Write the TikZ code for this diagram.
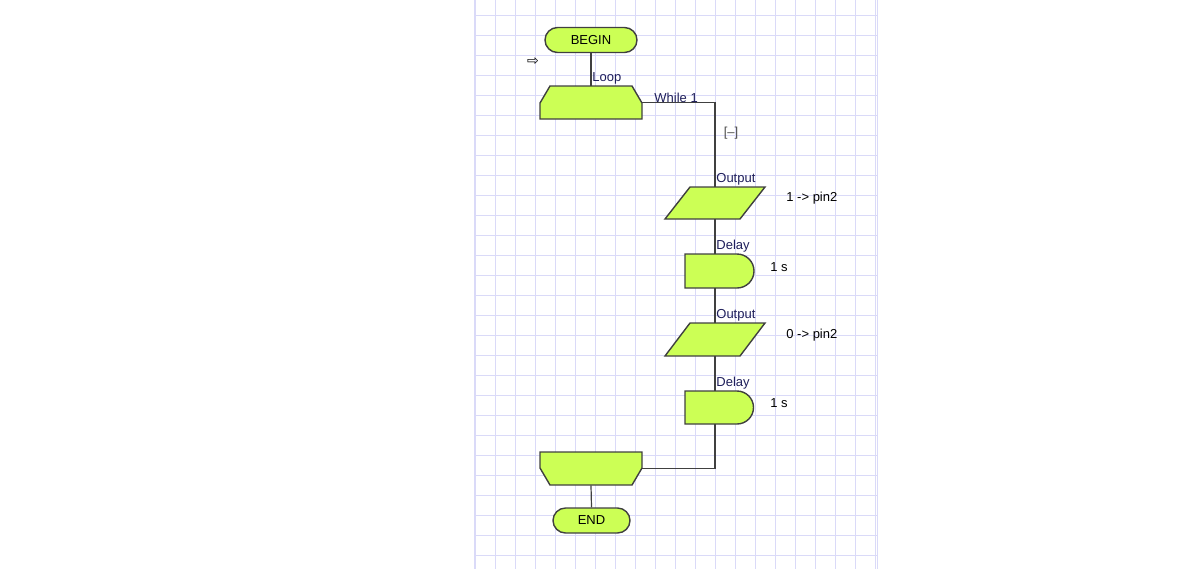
\documentclass[tikz,border=0pt]{standalone}
\usepackage{fontspec}
\setmainfont{Liberation Sans}
\newfontfamily\symfont{DejaVu Sans}
\usetikzlibrary{positioning, shapes.geometric}
\definecolor{fc_green}{RGB}{204,255,85}
\definecolor{grid_lav}{RGB}{218,218,248}
\definecolor{lbl_blue}{RGB}{30,30,90}
\tikzset{
  shape_line/.style = {draw=black!75, line width=0.7pt, fill=fc_green},
  terminal/.style = {shape_line, rounded corners=6.25pt, minimum width=46pt, minimum height=12.5pt, inner sep=0pt},
  anchorbox/.style = {minimum width=51pt, minimum height=16.5pt, inner sep=0pt},
  wire/.style = {draw=black!75, line width=0.6pt},
  tag/.style = {anchor=south west, inner sep=0.5pt, text=lbl_blue},
  value/.style = {anchor=west, inner sep=0pt}
}
\begin{document}
\begin{tikzpicture}[x=0.5pt, y=-0.5pt, font=\fontsize{6.5}{8}\selectfont]
  \useasboundingbox (0,0) rectangle (1200,569);
  % grid
  \foreach \gx in {475,495,...,875} \draw[grid_lav, line width=0.4pt] (\gx,0) -- (\gx,569);
  \foreach \gy in {15,35,...,565} \draw[grid_lav, line width=0.4pt] (474,\gy) -- (877,\gy);
  \draw[grid_lav, line width=0.4pt] (474,0) -- (474,569) (877,0) -- (877,569);

  \node[terminal] (begin) at (591,40) {BEGIN};
  \node[font=\symfont\fontsize{7}{8}\selectfont] (pointer) at (533,62) {⇨};

  % loop start
  \node[anchorbox] (loopA) at (591,102.5) {};
  \draw[shape_line] (550,86) -- (632,86) -- (642,103) -- (642,119) -- (540,119) -- (540,103) -- cycle;
  % output 1
  \node[anchorbox, minimum width=50pt, minimum height=16pt] (out1) at (715,203) {};
  \draw[shape_line] (690,187) -- (765,187) -- (740,219) -- (665,219) -- cycle;
  % delay 1
  \node[anchorbox, minimum width=34.5pt] (del1) at (719.5,271) {};
  \draw[shape_line] (685,254) -- (737,254) arc[start angle=-90, end angle=90, radius=17] -- (685,288) -- cycle;
  % output 2
  \node[anchorbox, minimum width=50pt, minimum height=16.5pt] (out2) at (715,339.5) {};
  \draw[shape_line] (690,323) -- (765,323) -- (740,356) -- (665,356) -- cycle;
  % delay 2
  \node[anchorbox, minimum width=34.5pt] (del2) at (719.5,407.5) {};
  \draw[shape_line] (685,391) -- (737,391) arc[start angle=-90, end angle=90, radius=16.5] -- (685,424) -- cycle;
  % loop end
  \node[anchorbox] (loopB) at (591,468.5) {};
  \draw[shape_line] (540,452) -- (642,452) -- (642,468) -- (632,485) -- (550,485) -- (540,468) -- cycle;

  \node[terminal, minimum width=38.5pt] (end) at (591.5,520.5) {END};

  % wires
  \draw[wire] (begin.south) -- (loopA.north);
  \draw[wire] (loopA.east) -| (out1.north);
  \draw[wire] (out1.south) -- (del1.north -| out1.south);
  \draw[wire] (del1.south -| out1.south) -- (out2.north);
  \draw[wire] (out2.south) -- (del2.north -| out2.south);
  \draw[wire] (del2.south -| out2.south) |- (loopB.east);
  \draw[wire] (loopB.south) -- (end.north);

  % labels
  \node[tag] (loopTag) at (591,86) {Loop};
  \node[tag] (whileTag) at (653,104) {While 1};
  \node[text=black!70] (fold) at (731,133) {[--]};
  \node[tag] (out1Tag) at (715,187) {Output};
  \node[value] (out1Val) at (786,198) {1 -> pin2};
  \node[tag] (del1Tag) at (715,254) {Delay};
  \node[value] (del1Val) at (770,267) {1 s};
  \node[tag] (out2Tag) at (715,323) {Output};
  \node[value] (out2Val) at (786,335) {0 -> pin2};
  \node[tag] (del2Tag) at (715,391) {Delay};
  \node[value] (del2Val) at (770,403) {1 s};
\end{tikzpicture}
\end{document}
